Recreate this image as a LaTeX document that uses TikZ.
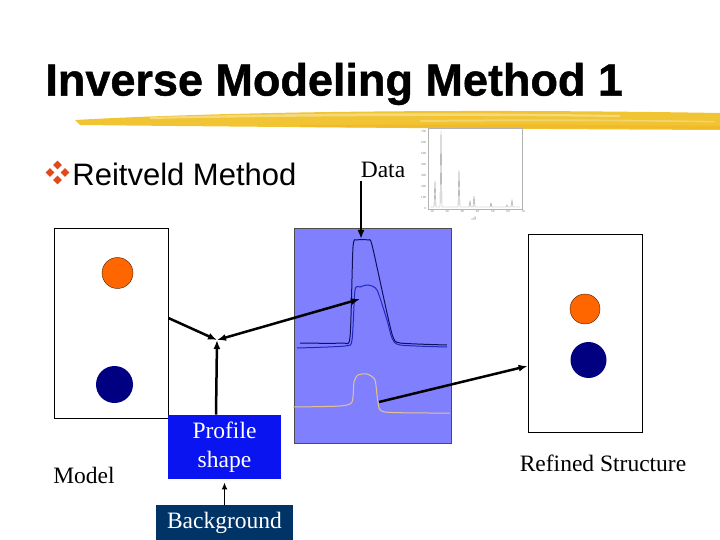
\documentclass[tikz,border=0pt]{standalone}
\usepackage{fontspec}
\setmainfont{Liberation Serif}
\setsansfont{Liberation Sans}
\usetikzlibrary{positioning,arrows.meta}

\definecolor{panelblue}{RGB}{128,128,255}
\definecolor{profblue}{RGB}{10,20,240}
\definecolor{bgnavy}{RGB}{0,51,102}
\definecolor{atomorange}{RGB}{255,102,0}
\definecolor{atomnavy}{RGB}{0,0,128}
\definecolor{brushyellow}{RGB}{240,196,50}
\definecolor{bulletred}{RGB}{224,74,26}
\definecolor{obsline}{RGB}{16,16,90}
\definecolor{calcline}{RGB}{30,40,190}
\definecolor{diffline}{RGB}{225,195,150}

\tikzset{
  structbox/.style={draw=black, fill=white, minimum width=114pt, inner sep=0pt},
  labeltext/.style={font=\fontsize{23.5}{29}\selectfont, inner sep=0pt},
  colorbox/.style={labeltext, text=white, align=center, inner sep=0pt},
  conn/.style={-{Latex[length=9pt,width=7pt]}, line width=2.5pt},
  tick/.style={font=\sffamily\fontsize{3}{3}\selectfont, text=gray, inner sep=0.5pt}
}

\begin{document}
\begin{tikzpicture}[x=1pt, y=-1pt, thick]
        \useasboundingbox (0,0) rectangle (720,540);

        % Titel
        \node[anchor=west, inner sep=0pt, font=\sffamily\bfseries\fontsize{45}{50}\selectfont\addfontfeature{FakeBold=1}] (title) at (45,84) {Inverse Modeling Method 1};

        % Pinselstrich
        \fill[brushyellow] (75,120) .. controls (200,113) and (420,108) .. (720,113)
            -- (720,130) .. controls (520,129) and (260,127) .. (80,125) -- cycle;
        \fill[brushyellow!55!white, opacity=0.8] (150,117) .. controls (300,113) and (450,112) .. (620,115)
            -- (620,117) .. controls (450,115) and (300,116) .. (150,119) -- cycle;
        \fill[brushyellow!55!white, opacity=0.6] (420,120) .. controls (520,119) and (620,119) .. (715,121)
            -- (715,122.5) .. controls (620,121) and (520,121) .. (420,122) -- cycle;
        \fill[brushyellow!85!orange] (300,125) .. controls (450,124) and (600,125) .. (720,126)
            -- (720,129) .. controls (600,128) and (450,128) .. (300,127) -- cycle;

        % Aufzaehlungszeichen
        \foreach \dx/\dy in {0/-7.5, -7.5/0, 7.5/0, 0/7.5} {
                \fill[bulletred] ({57.5+\dx},{172.5+\dy-4.3}) -- ++(4.3,4.3) -- ++(-4.3,4.3) -- ++(-4.3,-4.3) -- cycle;
            }
        \node[anchor=west, inner sep=0pt, font=\sffamily\fontsize{31}{34}\selectfont] (method) at (72,174) {Reitveld Method};

        % Messdaten
        \node[labeltext] (data) at (383,170) {Data};
        \draw[gray!60, thin, fill=white] (428,128) rectangle (522,209);
        \foreach \v [count=\i from 0] in {0,100,200,300,400,500,600,700} {
                \node[tick, anchor=east] at (427,{208-\i*10.9}) {\v};
            }
        \foreach \v [count=\i from 0] in {10,20,30,40,50,60,70} {
                \node[tick, anchor=north] at ({432+\i*15.2},210) {\v};
            }
        \node[tick, anchor=north] at (474,216) {2$\theta$};
        \draw[gray!80, thin] (430,207) -- (434,207) -- (435,181) -- (436,207) -- (440,207) -- (441,131)
            -- (442,207) -- (458,207) -- (459,170) -- (460,207) -- (469,207) -- (470,201) -- (471,207)
            -- (473,207) -- (474,196) -- (475,207) -- (490,207) -- (491,203) -- (492,207) -- (506,207)
            -- (507,205) -- (508,207) -- (511,207) -- (512,200) -- (513,207) -- (520,207);

        % Modell
        \node[structbox, minimum height=190pt] (model) at (111,323) {};
        \fill[atomorange, draw=black!70!atomorange, thin] (117.5,273) circle (15.5);
        \fill[atomnavy] (114.5,384.5) circle (18.5);
        \node[labeltext] (modellabel) at (84,475) {Model};

        % Profil und Untergrund
        \node[colorbox, fill=profblue, minimum width=113pt, minimum height=64pt] (profile) at (224.5,447) {Profile\\shape};
        \node[colorbox, fill=bgnavy, minimum width=137pt, minimum height=36pt] (background) at (224.5,523) {Background};

        % Diagrammfeld
        \node[draw=black!70, fill=panelblue, minimum width=157pt, minimum height=215pt, inner sep=0pt] (panel) at (372.5,335.5) {};
        \draw[obsline, line width=1pt] plot[smooth, tension=0.4] coordinates {(300,343) (342,343) (350,337) (353,247)
            (357,240) (368,240) (372,245) (387,313) (393,337) (400,343) (447,345)};
        \draw[calcline, line width=1pt] plot[smooth, tension=0.4] coordinates {(297,348) (345,346) (352,340) (355,290)
            (360,287) (368,285) (377,290) (387,320) (392,338) (400,345) (447,347)};
        \draw[diffline, line width=1pt] plot[smooth, tension=0.4] coordinates {(293,407) (340,406) (352,402) (354,382)
            (358,375) (367,374) (375,380) (378,402) (385,412) (450,413)};

        % Verfeinerte Struktur
        \node[structbox, minimum height=198pt] (refined) at (585,333) {};
        \fill[atomorange, draw=black!70!atomorange, thin] (585,309) circle (15);
        \fill[atomnavy] (588.5,360) circle (18);
        \node[labeltext] (refinedlabel) at (603,463) {Refined Structure};

        % Verbindungen
        \coordinate (junction) at (217,340);
        \coordinate (datafoot) at (361,181);
        \coordinate (obstop) at (361,239);
        \coordinate (calcpt) at (360,299);
        \coordinate (diffpt) at (379,402);
        \draw[conn] (datafoot) -- (obstop);
        \draw[conn] (model.east |- 0,318) -- (junction);
        \draw[conn] (profile.north -| 216,0) -- (junction);
        \draw[conn, {Latex[length=9pt,width=7pt]}-{Latex[length=9pt,width=7pt]}] (junction) -- (calcpt);
        \draw[conn] (diffpt) -- (refined.west |- 0,366);
        \draw[-{Latex[length=7pt,width=6pt]}, line width=1.8pt] (background.north) -- ([yshift=-3pt]profile.south);

    \end{tikzpicture}
\end{document}
